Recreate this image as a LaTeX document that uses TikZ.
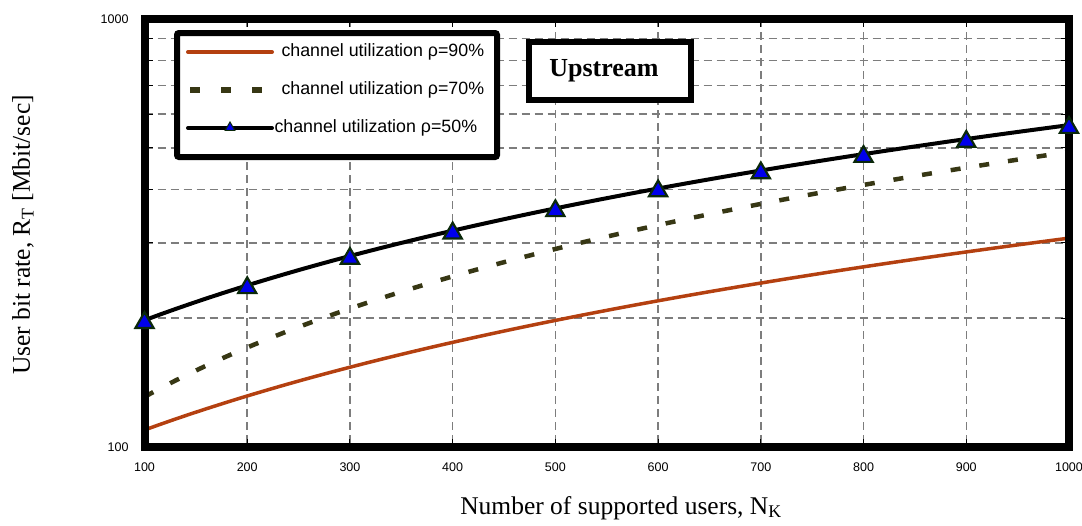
\documentclass[tikz,border=0pt]{standalone}
\usepackage{fontspec}
\setmainfont{Liberation Serif}
\setsansfont{Liberation Sans}
\usetikzlibrary{shapes.geometric}
\definecolor{c90}{RGB}{180,64,16}
\definecolor{c70}{RGB}{55,55,20}
\definecolor{gridc}{RGB}{125,125,125}
\definecolor{tribl}{RGB}{0,0,235}
\definecolor{trio}{RGB}{10,40,10}
\begin{document}
\begin{tikzpicture}[x=1pt,y=-1pt,
  gridline/.style={gridc, line width=1.5pt, dash pattern=on 8pt off 5pt},
  frame/.style={line width=8pt},
  inticks/.style={line width=1pt},
  ticklab/.style={font=\sffamily\fontsize{12.5}{14}\selectfont},
  c90line/.style={c90, line width=3.5pt},
  c70line/.style={c70, line width=4.5pt, dash pattern=on 10pt off 19pt},
  c50line/.style={black, line width=4pt},
  tri/.style={regular polygon, regular polygon sides=3, fill=tribl, draw=trio, line width=2.2pt, minimum size=21pt, inner sep=0pt},
  smalltri/.style={regular polygon, regular polygon sides=3, fill=tribl, draw=trio, line width=1pt, minimum size=11pt, inner sep=0pt},
  legtext/.style={font=\sffamily\fontsize{17.8}{20}\selectfont, anchor=west},
  axlabel/.style={font=\fontsize{25.5}{28}\selectfont},
  boxframe/.style={line width=6pt, fill=white},
]
\useasboundingbox (0,0) rectangle (1082,525);
% grid
\foreach \i in {1,...,8}
  \draw[gridline] ({144.5+\i*102.72},19) -- ({144.5+\i*102.72},447);
\foreach \yy in {318.1,242.8,189.3,147.8,114.0,85.3,60.5,38.6}
  \draw[gridline] (144.5,\yy) -- (1069,\yy);
% inner ticks
\foreach \i in {1,...,8} {
  \draw[inticks] ({144.5+\i*102.72},19) -- ({144.5+\i*102.72},27);
  \draw[inticks] ({144.5+\i*102.72},447) -- ({144.5+\i*102.72},439);
}
\foreach \yy in {318.1,242.8,189.3,147.8,114.0,85.3,60.5,38.6} {
  \draw[inticks] (144.5,\yy) -- (152.5,\yy);
  \draw[inticks] (1069,\yy) -- (1061,\yy);
}
% curves
\draw[c90line] plot[domain=100:1000, samples=60] ({144.5+(\x-100)*1.0272}, {1303-185.88*ln(87.6+0.22*\x)});
\draw[c70line] plot[domain=100:1000, samples=60] ({144.5+(\x-100)*1.0272}, {1303-185.88*ln(91.2+0.398*\x)});
\draw[c50line] plot[domain=100:1000, samples=60] ({144.5+(\x-100)*1.0272}, {1303-185.88*ln(157+0.408*\x)});
% frame
\draw[frame] (144.5,19) rectangle (1069,447);
% markers
\foreach \n in {100,200,...,1000}
  \node[tri] at ({144.5+(\n-100)*1.0272}, {1303-185.88*ln(157+0.408*\n)+2.5}) {};
% tick labels
\node[ticklab, anchor=east] (y1000) at (132,19) {1000};
\node[ticklab, anchor=east] (y100) at (132,447) {100};
\foreach \n [count=\k] in {100,200,...,1000}
  \node[ticklab] (xt\k) at ({144.5+(\n-100)*1.0272},467) {\n};
% axis labels
\node[axlabel, anchor=base] (xlab) at (621,514) {Number of supported users, N\textsubscript{K}};
\node[axlabel, rotate=90] (ylab) at (23,235) {User bit rate, R\textsubscript{T} [Mbit/sec]};
% legend
\draw[boxframe, rounded corners=2pt] (177,33) rectangle (497,157);
\draw[c90, line width=4pt, line cap=round] (188,52) -- (272,52);
\draw[c70, line width=6pt, dash pattern=on 10pt off 21pt] (190,90) -- (272,90);
\draw[black, line width=4pt, line cap=round] (188,128) -- (272,128);
\node[smalltri] (ltri) at (230,127.5) {};
\node[legtext] (l90) at (278,52) {channel utilization ρ=90\%};
\node[legtext] (l70) at (278,90) {channel utilization ρ=70\%};
\node[legtext] (l50) at (271,128) {channel utilization ρ=50\%};
% upstream box
\draw[boxframe] (529,42) rectangle (691,100);
\node[font=\bfseries\fontsize{26}{30}\selectfont] (up) at (604,71) {Upstream};
\end{tikzpicture}
\end{document}
